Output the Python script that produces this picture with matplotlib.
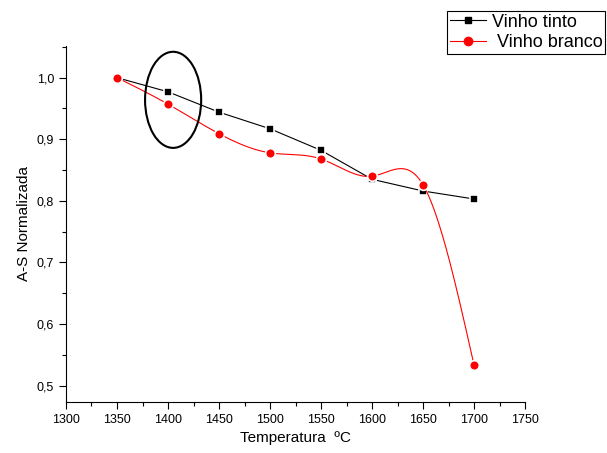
import numpy as np
import matplotlib
matplotlib.use("Agg")
import matplotlib.pyplot as plt
from matplotlib.patches import Ellipse
from matplotlib.ticker import MultipleLocator, FuncFormatter

plt.rcParams["font.family"] = ["Liberation Sans", "DejaVu Sans"]

temperatura = [1350, 1400, 1450, 1500, 1550, 1600, 1650, 1700]
vinho_tinto = [1.000, 0.977, 0.944, 0.917, 0.882, 0.835, 0.816, 0.803]
vinho_branco = [1.000, 0.957, 0.909, 0.878, 0.868, 0.840, 0.826, 0.533]


def natural_spline(x, y, n=400):
    # natural cubic spline through the points, only used to draw the curve
    x = np.asarray(x, float)
    y = np.asarray(y, float)
    k = len(x)
    h = np.diff(x)
    A = np.zeros((k, k))
    b = np.zeros(k)
    A[0, 0] = A[-1, -1] = 1.0
    for i in range(1, k - 1):
        A[i, i - 1] = h[i - 1]
        A[i, i] = 2 * (h[i - 1] + h[i])
        A[i, i + 1] = h[i]
        b[i] = 6 * ((y[i + 1] - y[i]) / h[i] - (y[i] - y[i - 1]) / h[i - 1])
    m = np.linalg.solve(A, b)
    xs = np.linspace(x[0], x[-1], n)
    idx = np.clip(np.searchsorted(x, xs) - 1, 0, k - 2)
    x0, x1 = x[idx], x[idx + 1]
    hh = x1 - x0
    t0, t1 = x1 - xs, xs - x0
    ys = (m[idx] * t0**3 + m[idx + 1] * t1**3) / (6 * hh) \
        + (y[idx] / hh - m[idx] * hh / 6) * t0 \
        + (y[idx + 1] / hh - m[idx + 1] * hh / 6) * t1
    return xs, ys


fig = plt.figure(figsize=(6.07, 4.53), dpi=100)
ax = fig.add_axes([0.1087, 0.1126, 0.7564, 0.786])

ax.plot(temperatura, vinho_tinto, color="black", lw=0.8, zorder=2)
ax.plot(temperatura, vinho_tinto, ls="none", marker="s", ms=6, color="black",
        mec="white", mew=1.2, zorder=3)

xs, ys = natural_spline(temperatura, vinho_branco)
ax.plot(xs, ys, color="red", lw=0.8, zorder=4)
ax.plot(temperatura, vinho_branco, ls="none", marker="o", ms=7, color="red",
        mec="white", mew=1.2, zorder=5)

ax.add_patch(Ellipse((1405, 0.964), 55, 0.156, fill=False, edgecolor="black",
                     lw=1.5, zorder=6))

ax.set_xlim(1300, 1750)
ax.set_ylim(0.4735, 1.0515)
ax.xaxis.set_major_locator(MultipleLocator(50))
ax.xaxis.set_minor_locator(MultipleLocator(25))
ax.yaxis.set_major_locator(MultipleLocator(0.1))
ax.yaxis.set_minor_locator(MultipleLocator(0.05))
ax.yaxis.set_major_formatter(FuncFormatter(lambda v, p: f"{v:.1f}".replace(".", ",")))
ax.tick_params(which="major", direction="out", length=5, width=0.8, labelsize=9)
ax.tick_params(which="minor", direction="out", length=3, width=0.8)
for s in ["top", "right"]:
    ax.spines[s].set_visible(False)

ax.set_xlabel("Temperatura  ºC", fontsize=11)
ax.set_ylabel("A-S Normalizada", fontsize=11)

h1, = ax.plot([], [], color="black", lw=0.8, marker="s", ms=5)
h2, = ax.plot([], [], color="red", lw=0.8, marker="o", ms=6)
leg = fig.legend([h1, h2], ["Vinho tinto", " Vinho branco"], loc="upper right",
                 bbox_to_anchor=(0.997, 0.976), fontsize=13, frameon=True,
                 fancybox=False, edgecolor="black", framealpha=1,
                 borderpad=0.15, handlelength=2.0, handletextpad=0.3,
                 labelspacing=0.2, borderaxespad=0)
leg.get_frame().set_linewidth(0.8)

fig.savefig("out.png", dpi=100)
